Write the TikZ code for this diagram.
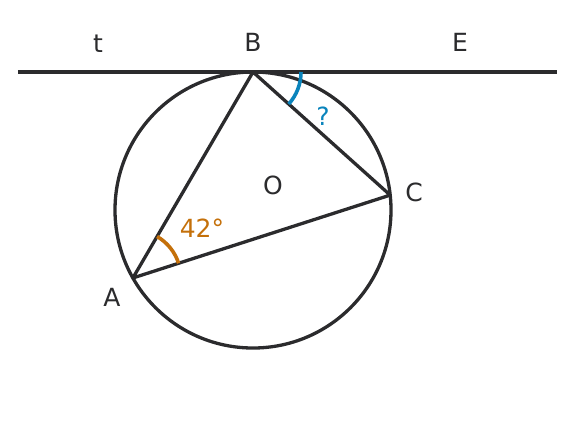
\documentclass[tikz,border=0pt]{standalone}
\usepackage{fontspec}
\setmainfont{DejaVu Sans}
\usetikzlibrary{angles,positioning}
\definecolor{ink}{HTML}{2B2B2D}
\definecolor{qblue}{HTML}{0A84BC}
\definecolor{gorange}{HTML}{C4700A}
\begin{document}
\begin{tikzpicture}[x=0.5pt,y=0.5pt,
  lbl/.style={text=ink,font=\fontsize{12.5}{14}\selectfont,inner sep=0pt},
  edge/.style={ink,line width=1.65pt},
  anglearc/.style={line width=1.8pt}]
\def\r{138}
\def\ar{24pt}
\useasboundingbox (-253,-210) rectangle (323,210);
% points on the circle
\coordinate (O) at (0,0);
\coordinate (B) at (90:\r);
\coordinate (C) at (6.2:\r);
\coordinate (A) at (209.5:\r);
\coordinate (tl) at (-235,\r);
\coordinate (tr) at (304,\r);
\draw[edge] (O) circle[radius=\r];
\draw[ink,line width=2.1pt] (tl) -- (tr);
\draw[edge,line join=round] (A) -- (B) -- (C) -- cycle;
%\draw[edge] (O) -- (B);
\pic[draw=gorange,anglearc,angle radius=\ar] {angle=C--A--B};
\pic[draw=qblue,anglearc,angle radius=\ar] {angle=C--B--tr};
\node[lbl, name=lt] at (-155,166) {t};
\node[lbl, name=lB] at (0,168) {B};
\node[lbl, name=lE] at (207,168) {E};
\node[lbl, name=lO] at (20,25) {O};
\node[lbl, name=lC] at (161,18) {C};
\node[lbl, name=lA] at (-141,-87) {A};
\node[lbl, text=qblue, name=q] at (70,94) {?};
\node[lbl, text=gorange, name=deg] at (-51,-18) {42°};
\end{tikzpicture}
\end{document}
